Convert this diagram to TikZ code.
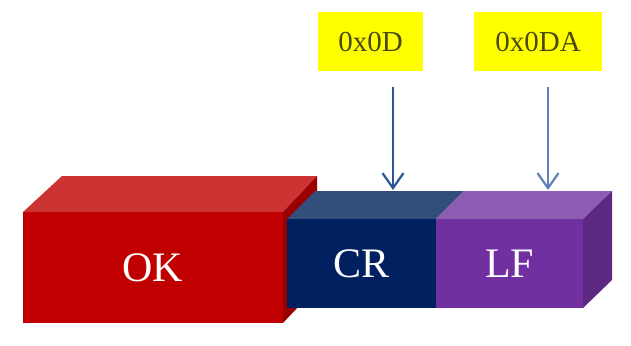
\documentclass[tikz,border=0pt]{standalone}
\usepackage{fontspec}
\setmainfont{Liberation Serif}
\usetikzlibrary{arrows.meta}
\definecolor{okfront}{HTML}{C00000}
\definecolor{oktop}{HTML}{CC3333}
\definecolor{okside}{HTML}{990000}
\definecolor{crfront}{HTML}{002060}
\definecolor{crtop}{HTML}{344E7C}
\definecolor{lffront}{HTML}{7030A0}
\definecolor{lftop}{HTML}{8E5CB3}
\definecolor{lfside}{HTML}{5C2882}
\definecolor{arrA}{HTML}{2A5796}
\definecolor{arrB}{HTML}{5F82B8}
\definecolor{labfill}{HTML}{FFFF00}
\definecolor{labtext}{HTML}{4A4A10}
\tikzset{
  frontbox/.style={inner sep=0pt, text=white, font=\fontsize{42}{42}\selectfont},
  labbox/.style={fill=labfill, inner sep=0pt, minimum height=59pt, text=labtext, font=\fontsize{29}{29}\selectfont},
  ptr/.style={line width=2.2pt, -{Straight Barb[length=15pt,width=21pt,line width=2.2pt]}}
}
\begin{document}
\begin{tikzpicture}[x=1pt,y=-1pt]
\useasboundingbox[fill=white] (0,0) rectangle (631,345);
% OK box
\fill[oktop] (23,212) -- (62,176) -- (317,176) -- (283,212) -- cycle;
\fill[okside] (283,212) -- (317,176) -- (317,287) -- (283,323) -- cycle;
\node[frontbox, fill=okfront, minimum width=260pt, minimum height=111pt] (ok) at (153,267.5) {OK};
% CR box
\fill[crtop] (287,219) -- (315,191) -- (464,191) -- (436,219) -- cycle;
\node[frontbox, fill=crfront, minimum width=149pt, minimum height=89pt] (cr) at (361.5,263.5) {CR};
% LF box
\fill[lftop] (436,219) -- (464,191) -- (612,191) -- (583,219) -- cycle;
\fill[lfside] (583,219) -- (612,191) -- (612,280) -- (583,308) -- cycle;
\node[frontbox, fill=lffront, minimum width=147pt, minimum height=89pt] (lf) at (509.5,263.5) {LF};
% labels
\node[labbox, minimum width=105pt] (l1) at (370.5,41.5) {0x0D};
\node[labbox, minimum width=128pt] (l2) at (538,41.5) {0x0DA};
% arrows
\coordinate (a1s) at (393,87);
\coordinate (a1e) at (393,190);
\coordinate (a2s) at (548,87);
\coordinate (a2e) at (548,190);
\draw[ptr, draw=arrA] (a1s) -- (a1e);
\draw[ptr, draw=arrB] (a2s) -- (a2e);
\end{tikzpicture}
\end{document}
